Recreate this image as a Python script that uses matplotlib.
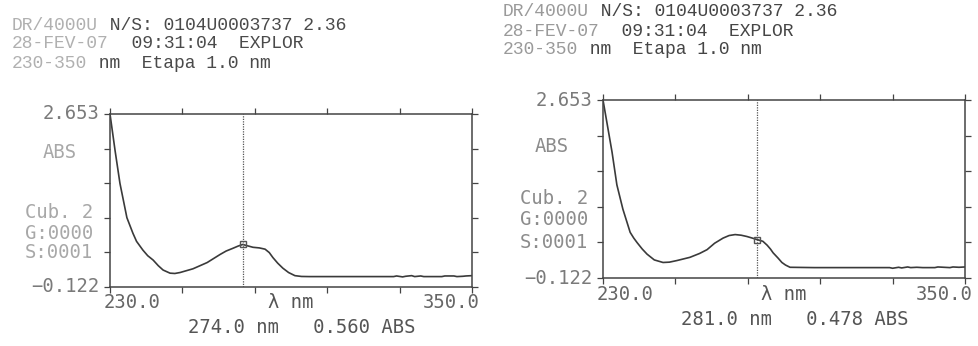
import matplotlib
matplotlib.use('Agg')
import matplotlib.pyplot as plt
from matplotlib.transforms import offset_copy
import numpy as np

# instrument header lines: (faded prefix, rest of line)
header_lines = [
    ('DR/4000U', ' N/S: 0104U0003737 2.36'),
    ('28-FEV-07', '  09:31:04  EXPLOR'),
    ('230-350', ' nm  Etapa 1.0 nm'),
]

abs_min = -0.122
abs_max = 2.653
wl_min = 230.0
wl_max = 350.0

# scan 1
wl_a = [230.0, 231.7, 233.3, 235.6, 237.6, 238.8, 240.9, 242.5, 244.3, 246.0,
        247.6, 249.9, 251.5, 253.2, 257.5, 262.2, 266.5, 268.5, 270.8, 272.5,
        274.0, 275.5, 277.4, 279.5, 281.4, 282.8, 284.0, 285.6, 287.3, 289.2,
        291.3, 293.5, 296.0, 310.0, 324.0, 325.0, 327.0, 328.0, 330.0, 331.0,
        333.0, 334.0, 336.0, 340.0, 341.0, 344.0, 345.0, 347.0, 348.0, 350.0]
abs_a = [2.653, 2.06, 1.54, 0.99, 0.74, 0.61, 0.47, 0.38, 0.31, 0.22,
         0.15, 0.10, 0.095, 0.11, 0.17, 0.27, 0.40, 0.455, 0.50, 0.535,
         0.560, 0.54, 0.515, 0.505, 0.485, 0.43, 0.35, 0.26, 0.18, 0.11,
         0.06, 0.047, 0.045, 0.045, 0.045, 0.055, 0.04, 0.05, 0.06, 0.045,
         0.055, 0.045, 0.045, 0.045, 0.055, 0.055, 0.045, 0.05, 0.055, 0.06]
peak_a = (274.0, 0.560)

# scan 2
wl_b = [230.0, 233.0, 234.6, 236.6, 238.0, 239.0, 240.2, 241.3, 243.0, 244.6,
        247.0, 249.9, 252.0, 254.5, 258.8, 262.0, 264.5, 267.0, 269.8, 271.8,
        273.8, 275.8, 277.7, 279.5, 281.0, 283.0, 284.4, 285.5, 286.4, 288.0,
        289.3, 290.5, 292.0, 300.0, 315.0, 325.0, 326.0, 328.0, 329.0, 331.0,
        332.0, 334.0, 336.0, 340.0, 341.0, 343.0, 345.0, 346.0, 348.0, 350.0]
abs_b = [2.653, 1.84, 1.33, 0.95, 0.74, 0.59, 0.50, 0.43, 0.33, 0.25,
         0.16, 0.12, 0.125, 0.15, 0.20, 0.26, 0.32, 0.42, 0.50, 0.54,
         0.555, 0.545, 0.525, 0.50, 0.478, 0.45, 0.39, 0.33, 0.27, 0.19,
         0.12, 0.08, 0.045, 0.04, 0.04, 0.04, 0.03, 0.045, 0.035, 0.05,
         0.04, 0.045, 0.04, 0.04, 0.05, 0.045, 0.04, 0.05, 0.045, 0.05]
peak_b = (281.0, 0.478)

W, H = 979, 346
INK = '#3a3a3a'
MONO = 'DejaVu Sans Mono'


def px(x, y):
    return x / W, 1 - y / H


def draw_header(fig, x0, y0, faded, dark):
    fs = 13
    step = 0.6 * fs  # advance of one Liberation Mono char in points
    for i, (pre, rest) in enumerate(header_lines):
        xy = px(x0, y0 + i * 19)
        fig.text(*xy, pre, family='Liberation Mono', fontsize=fs,
                 color=faded, va='center', ha='left')
        tr = offset_copy(fig.transFigure, fig=fig, x=len(pre) * step, y=0,
                         units='points')
        fig.text(*xy, rest, transform=tr, family='Liberation Mono',
                 fontsize=fs, color=dark, va='center', ha='left')


def draw_scan(fig, rect, wl, ab, peak, side_labels, label_color):
    ax = fig.add_axes(rect)
    ax.plot(wl, ab, color=INK, lw=1.2)
    ax.axvline(peak[0], color='#555555', lw=0.9, ls=(0, (1, 1)))
    ax.plot([peak[0]], [peak[1]], marker='s', ms=4.5, mfc='none',
            mec='#555555', mew=1.0)
    ax.set_xlim(wl_min, wl_max)
    ax.set_ylim(abs_min, abs_max)
    ax.set_xticks(np.linspace(wl_min, wl_max, 6))
    ax.set_yticks(np.linspace(abs_min, abs_max, 6))
    ax.tick_params(direction='out', length=4, width=0.9, colors='#444444',
                   top=True, right=True, labelbottom=False, labelleft=False)
    for s in ax.spines.values():
        s.set_color('#444444')
        s.set_linewidth(1.1)

    tr = ax.get_yaxis_transform()
    fs = 13.6
    ax.text(-0.03, abs_max, f'{abs_max:.3f}', transform=tr, ha='right',
            va='center', family=MONO, fontsize=fs, color='#7a7a7a')
    ax.text(-0.03, abs_min, f'{abs_min:.3f}'.replace('-', '\u2212'),
            transform=tr, ha='right', va='center', family=MONO, fontsize=fs,
            color='#7a7a7a')
    for txt, x, y in side_labels:
        ax.text(x, y, txt, transform=ax.transAxes, ha='left', va='center',
                family=MONO, fontsize=fs, color=label_color)

    ax.text(-0.018, -0.09, f'{wl_min:.1f}', transform=ax.transAxes,
            ha='left', va='center', family=MONO, fontsize=fs, color='#666666')
    ax.text(0.436, -0.09, '\u03bb nm', transform=ax.transAxes,
            ha='left', va='center', family=MONO, fontsize=fs, color='#555555')
    ax.text(1.022, -0.09, f'{wl_max:.1f}', transform=ax.transAxes,
            ha='right', va='center', family=MONO, fontsize=fs, color='#666666')
    ax.text(0.531, -0.235, f'{peak[0]:.1f} nm   {peak[1]:.3f} ABS',
            transform=ax.transAxes, ha='center', va='center', family=MONO,
            fontsize=fs, color='#555555')
    return ax


fig = plt.figure(figsize=(W / 100, H / 100), dpi=100)

draw_header(fig, 12, 25, '#b0b0b0', '#4a4a4a')
draw_header(fig, 503, 12, '#9a9a9a', '#454545')

left_rect = [110 / W, 1 - 287 / H, 362 / W, 173 / H]
right_rect = [603 / W, 1 - 278 / H, 362 / W, 178 / H]

draw_scan(fig, left_rect, wl_a, abs_a, peak_a,
          [('ABS', -0.185, 0.775), ('Cub. 2', -0.235, 0.428),
           ('G:0000', -0.235, 0.312), ('S:0001', -0.235, 0.197)],
          '#a8a8a8')
draw_scan(fig, right_rect, wl_b, abs_b, peak_b,
          [('ABS', -0.188, 0.736), ('Cub. 2', -0.229, 0.449),
           ('G:0000', -0.229, 0.331), ('S:0001', -0.229, 0.197)],
          '#8c8c8c')

fig.savefig('out.png', dpi=100, facecolor='white')
